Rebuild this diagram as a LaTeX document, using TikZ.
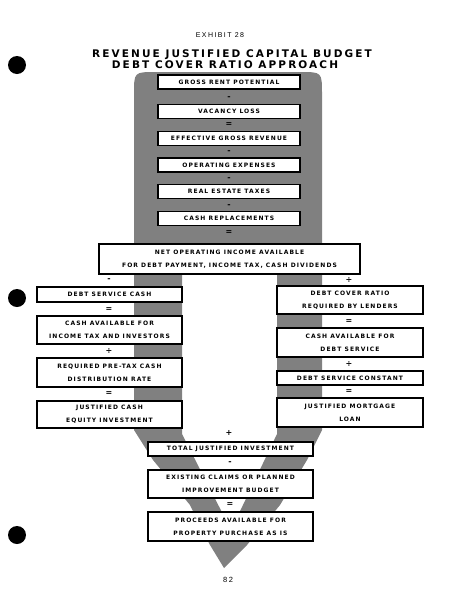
\documentclass[tikz,border=0pt]{standalone}
\usepackage{fontspec}
\newfontfamily\boxfont[LetterSpace=18]{DejaVu Sans}
\newfontfamily\titlefont[LetterSpace=20]{DejaVu Sans}
\newfontfamily\typefont[LetterSpace=20]{Liberation Sans}
\usetikzlibrary{shapes,calc}

\begin{document}
\begin{tikzpicture}[x=1pt,y=-1pt,
    box/.style={rectangle,draw,line width=1.2pt,fill=white,inner sep=0pt,align=center,
      font=\boxfont\bfseries\fontsize{6}{13}\selectfont},
    topbox/.style={box,minimum width=142pt,minimum height=14pt},
    leftbox/.style={box,minimum width=145pt},
    rightbox/.style={box,minimum width=146pt},
    basebox/.style={box,minimum width=165pt},
    op/.style={inner sep=0pt,font=\boxfont\bfseries\fontsize{8}{9}\selectfont},
    stipple/.style={fill=black!50}]
  \useasboundingbox[fill=white] (0,0) rectangle (463,600);

  % punched holes of the page
  \foreach \h in {65,298,535}
    \fill (17,\h) circle (9);

  % heading
  \node[anchor=base,font=\typefont\fontsize{7}{8}\selectfont] (exhibit) at (220,37.5) {EXHIBIT 28};
  \node[anchor=base,font=\titlefont\bfseries\fontsize{10.5}{12}\selectfont] (title) at (232,57) {REVENUE JUSTIFIED CAPITAL BUDGET};
  \node[anchor=base,font=\titlefont\bfseries\fontsize{10.5}{12}\selectfont] (subtitle) at (225,68) {DEBT COVER RATIO APPROACH};

  % stippled backdrop
  \fill[stipple,even odd rule]
    (134,430) -- (134,94) .. controls (134,72) .. (156,72) -- (300,72)
      .. controls (322,72) .. (322,94) -- (322,430) -- (307,460) -- (280,505)
      -- (247,545) -- (224,568) -- (210,545) -- (190,505) -- (153,460) -- cycle
    (182,274) -- (277,274) -- (277,434) -- (231,530) -- (182,434) -- cycle;

  % revenue column
  \node[topbox] (gross) at (229,82) {GROSS RENT POTENTIAL};
  \node[op] (o1) at (229,98) {-};
  \node[topbox] (vacancy) at (229,111.5) {VACANCY LOSS};
  \node[op] (o2) at (229,124.5) {=};
  \node[topbox] (egr) at (229,138.5) {EFFECTIVE GROSS REVENUE};
  \node[op] (o3) at (229,152.5) {-};
  \node[topbox] (opex) at (229,165) {OPERATING EXPENSES};
  \node[op] (o4) at (229,179.5) {-};
  \node[topbox] (taxes) at (229,191.5) {REAL ESTATE TAXES};
  \node[op] (o5) at (229,206.5) {-};
  \node[topbox] (repl) at (229,218.5) {CASH REPLACEMENTS};
  \node[op] (o6) at (229,233) {=};

  \node[box,minimum width=261pt,minimum height=30pt] (noi) at (229.5,259)
    {NET OPERATING INCOME AVAILABLE\\FOR DEBT PAYMENT, INCOME TAX, CASH DIVIDENDS};

  % equity side
  \node[op] (l1) at (109,280) {-};
  \node[leftbox,minimum height=15pt] (dscash) at (109.5,294.5) {DEBT SERVICE CASH};
  \node[op] (l2) at (109,309.5) {=};
  \node[leftbox,minimum height=28pt] (cashinv) at (109.5,330) {CASH AVAILABLE FOR\\INCOME TAX AND INVESTORS};
  \node[op] (l3) at (109,351.5) {÷};
  \node[leftbox,minimum height=29pt] (distrate) at (109.5,372.5) {REQUIRED PRE-TAX CASH\\DISTRIBUTION RATE};
  \node[op] (l4) at (109,394) {=};
  \node[leftbox,minimum height=27pt] (equity) at (109.5,414.5) {JUSTIFIED CASH\\EQUITY INVESTMENT};

  % mortgage side
  \node[op] (r1) at (349,280) {÷};
  \node[rightbox,minimum height=28pt] (dcr) at (350,300) {DEBT COVER RATIO\\REQUIRED BY LENDERS};
  \node[op] (r2) at (349,321.5) {=};
  \node[rightbox,minimum height=29pt] (cashds) at (350,342.5) {CASH AVAILABLE FOR\\DEBT SERVICE};
  \node[op] (r3) at (349,364) {÷};
  \node[rightbox,minimum height=14pt] (dsconst) at (350,378) {DEBT SERVICE CONSTANT};
  \node[op] (r4) at (349,391.5) {=};
  \node[rightbox,minimum height=29pt] (mortgage) at (350,412.5) {JUSTIFIED MORTGAGE\\LOAN};

  % purchase price
  \node[op] (b1) at (229,433) {+};
  \node[basebox,minimum height=14pt] (total) at (230.5,449) {TOTAL JUSTIFIED INVESTMENT};
  \node[op] (b2) at (230,463) {-};
  \node[basebox,minimum height=28pt] (claims) at (230.5,484) {EXISTING CLAIMS OR PLANNED\\IMPROVEMENT BUDGET};
  \node[op] (b3) at (230,505) {=};
  \node[basebox,minimum height=29pt] (proceeds) at (230.5,526.5) {PROCEEDS AVAILABLE FOR\\PROPERTY PURCHASE AS IS};

  \node[anchor=base,font=\typefont\fontsize{7.5}{9}\selectfont] (page) at (228,582) {82};
\end{tikzpicture}
\end{document}
